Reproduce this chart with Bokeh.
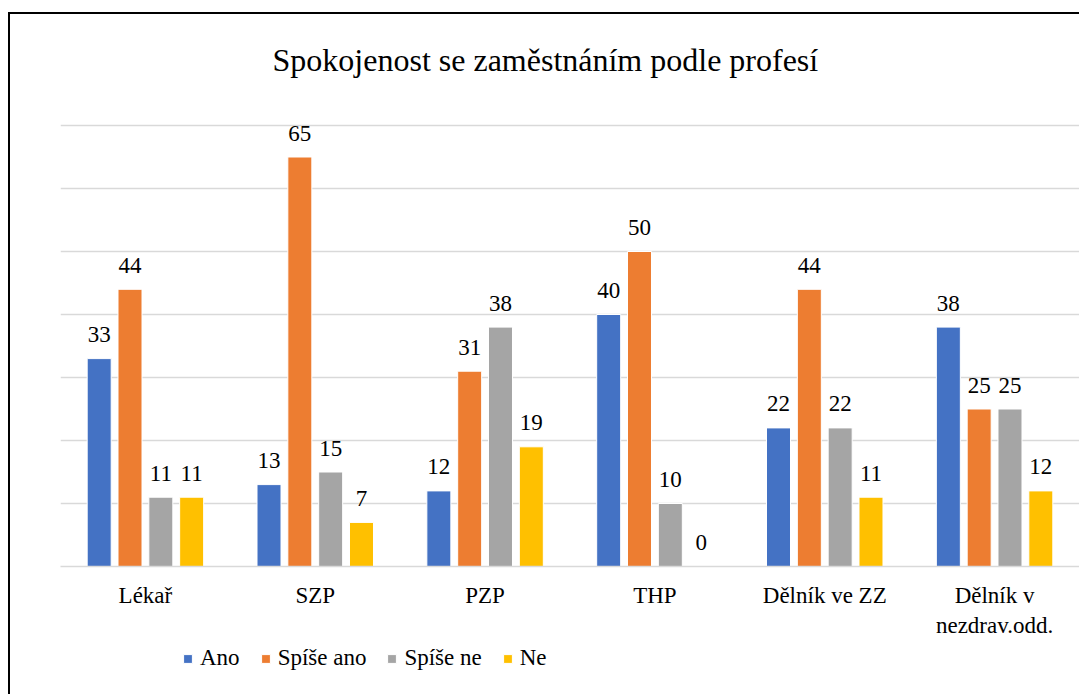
from bokeh.plotting import figure
from bokeh.layouts import column
from bokeh.models import (ColumnDataSource, FactorRange, Range1d, FixedTicker, Label,
                          Legend, LegendItem)
from bokeh.transform import dodge
from bokeh.core.properties import value
from bokeh.embed import file_html
from bokeh.resources import INLINE

# ---- data ----
categories = ["Lékař", "SZP", "PZP", "THP", "Dělník ve ZZ", "Dělník v\nnezdrav.odd."]
series_names = ["Ano", "Spíše ano", "Spíše ne", "Ne"]
ano = [33, 13, 12, 40, 22, 38]
spise_ano = [44, 65, 31, 50, 44, 25]
spise_ne = [11, 15, 38, 10, 22, 25]
ne = [11, 7, 19, 0, 11, 12]
gridline_values = [10, 20, 30, 40, 50, 60, 70]
title_text = "Spokojenost se zaměstnáním podle profesí"

colors = ["#4472C4", "#ED7D31", "#A5A5A5", "#FFC000"]
keys = ["ano", "spise_ano", "spise_ne", "ne"]

data = dict(cat=categories, ano=ano, spise_ano=spise_ano, spise_ne=spise_ne, ne=ne)
for k in keys:
    data[k + "_lbl"] = [str(v) for v in data[k]]
source = ColumnDataSource(data)

FONT = "'Times New Roman', 'Liberation Serif', serif"

ORIGIN_Y = 14  # page y of canvas top
PX_PER_UNIT = 6.3
FRAME_BOTTOM = 566 - ORIGIN_Y
MAIN_H = 630
W = 1069

p = figure(
    x_range=FactorRange(*categories, range_padding=0),
    y_range=Range1d(0, FRAME_BOTTOM / PX_PER_UNIT),
    width=W, height=MAIN_H,
    output_backend="svg", toolbar_location=None,
    min_border_left=50, min_border_right=0, min_border_top=0,
    min_border_bottom=MAIN_H - FRAME_BOTTOM,
)
p.outline_line_color = None
p.background_fill_color = "white"
p.border_fill_color = "white"

p.xgrid.visible = False
p.yaxis.visible = False
p.ygrid.ticker = FixedTicker(ticks=gridline_values)
p.ygrid.grid_line_color = "#d9d9d9"
p.ygrid.grid_line_width = 1.5

p.xaxis.axis_line_color = "#d9d9d9"
p.xaxis.axis_line_width = 1.5
p.xaxis.major_tick_line_color = None
p.xaxis.minor_tick_line_color = None
p.xaxis.major_label_text_font = FONT
p.xaxis.major_label_text_font_size = "23px"
p.xaxis.major_label_text_color = "#000000"
p.xaxis.major_label_standoff = 10

step = 0.1815
bw = 0.1413
offsets = [-1.5 * step, -0.5 * step, 0.5 * step, 1.5 * step]

for k, c, off in zip(keys, colors, offsets):
    p.vbar(x=dodge("cat", off, range=p.x_range), top=k, width=bw, source=source,
           fill_color=c, line_color="white", line_width=1)
    p.text(x=dodge("cat", off, range=p.x_range), y=k, text=k + "_lbl", source=source,
           y_offset=-24, text_align="center", text_baseline="middle",
           text_font=value(FONT), text_font_size=value("23px"), text_color="#000000")

p.add_layout(Label(x=2.855, y=(566 - 59.5) / PX_PER_UNIT, text=title_text, text_font=FONT,
                   text_font_size="32px", text_align="center", text_baseline="middle",
                   text_color="#000000"))

# ---- legend strip ----
LEG_H = 50
p2 = figure(width=W, height=LEG_H, x_range=Range1d(0, 1), y_range=Range1d(0, 1),
            output_backend="svg", toolbar_location=None,
            x_axis_location=None, y_axis_location=None,
            min_border_left=50, min_border_right=0, min_border_top=0, min_border_bottom=0)
p2.outline_line_color = None
p2.xgrid.visible = False
p2.ygrid.visible = False
items = []
for name, c in zip(series_names, colors):
    r = p2.vbar(x=[-5], top=[0], width=0.0, fill_color=c, line_color="white", line_width=1)
    items.append(LegendItem(label=name, renderers=[r]))
legend = Legend(items=items, orientation="horizontal", location=(122, 23),
                padding=0, margin=0, spacing=20, label_standoff=7,
                glyph_width=11, glyph_height=11,
                label_text_font=FONT, label_text_font_size="23px", label_text_color="#000000",
                border_line_color=None, background_fill_alpha=0)
p2.add_layout(legend, "center")

layout = column(p, p2, spacing=0)
layout.styles = {"border-left": "2px solid #000", "border-top": "2px solid #000",
                 "margin-top": "12px", "margin-left": "8px",
                 "font-family": "'Times New Roman', 'Liberation Serif', serif"}

open("out.html", "w").write(file_html(layout, INLINE))
